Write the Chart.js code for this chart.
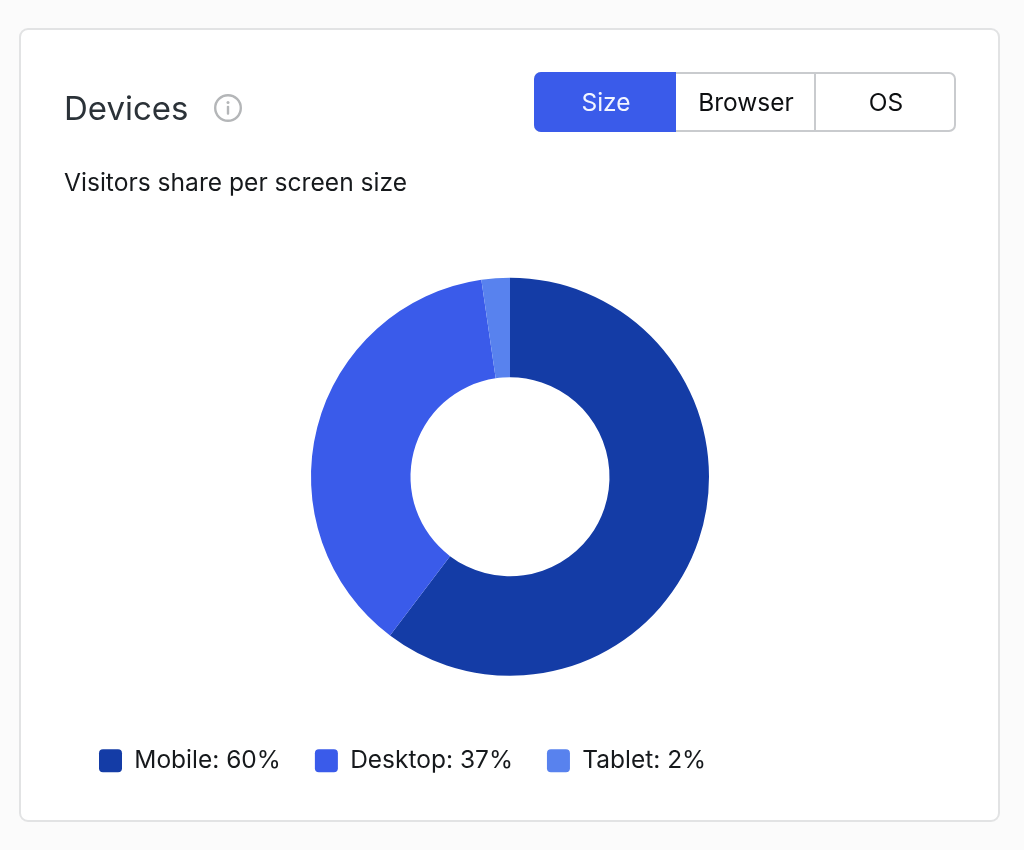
<!DOCTYPE html>
<html>
<head>
<meta charset="utf-8">
<script src="https://cdn.jsdelivr.net/npm/chart.js@4"></script>
<style>
html,body{margin:0;padding:0;width:1024px;height:850px;overflow:hidden;background:#fbfbfb;font-family:Inter,sans-serif}
.card{position:absolute;left:19px;top:28px;width:977px;height:790px;background:#fff;border:2px solid #e2e3e4;border-radius:9px;box-sizing:content-box}
#c{position:absolute;left:0;top:0}
.title{position:absolute;left:64px;top:88px;font-size:33px;line-height:40px;color:#2b3238}
.info{position:absolute;left:213px;top:93px}
.sub{position:absolute;left:64px;top:167px;font-size:24.6px;line-height:30px;color:#16191c}
.seg{position:absolute;left:534px;top:72px;width:422px;height:60px;box-sizing:border-box;border:2px solid #c9cbce;border-radius:7px;background:#fff;font-size:24.5px;color:#0d0f11}
.seg div{position:absolute;display:flex;align-items:center;justify-content:center;box-sizing:border-box}
.seg .on{background:#3a5bea;color:#f2f5ff;left:-2px;top:-2px;height:60px;width:142px;border-radius:7px 0 0 7px;padding-left:2px}
.seg .b{left:140px;top:0;height:56px;width:140px;border-right:2px solid #c9cbce;padding-left:2px}
.seg .o{left:280px;top:0;height:56px;width:140px}
</style>
</head>
<body>
<div class="card"></div>
<canvas id="c" width="1024" height="850"></canvas>
<div class="title">Devices</div>
<svg class="info" width="30" height="30" viewBox="0 0 30 30"><circle cx="15" cy="15" r="12.8" fill="none" stroke="#b4b6b8" stroke-width="2.4"/><circle cx="15" cy="9.6" r="1.5" fill="#b4b6b8"/><rect x="13.8" y="12.8" width="2.4" height="9" rx="1" fill="#b4b6b8"/></svg>
<div class="sub">Visitors share per screen size</div>
<div class="seg"><div class="on">Size</div><div class="b">Browser</div><div class="o">OS</div></div>
<script>
const categories = ["Mobile", "Desktop", "Tablet"];
const shareValues = [60.3, 37.4, 2.3];
const legendPercents = [60, 37, 2];
const sliceColors = ["#143ca6", "#3a5bea", "#5882ee"];

new Chart(document.getElementById("c"), {
  type: "doughnut",
  data: {
    labels: categories,
    datasets: [{ data: shareValues, backgroundColor: sliceColors, borderWidth: 0, radius: 199, cutout: "50%" }]
  },
  options: {
    responsive: false,
    animation: false,
    layout: { padding: { left: 65, right: 69, top: 239, bottom: 67 } },
    plugins: {
      tooltip: { enabled: false },
      legend: {
        position: "bottom",
        align: "start",
        labels: {
          boxWidth: 23,
          boxHeight: 23,
          padding: 34,
          color: "#16191c",
          font: { family: "Inter", size: 24.5 },
          useBorderRadius: true,
          borderRadius: 4,
          generateLabels: () => categories.map((c, i) => ({
            text: c + ": " + legendPercents[i] + "%",
            fillStyle: sliceColors[i],
            strokeStyle: sliceColors[i],
            lineWidth: 0,
            borderRadius: 4,
            fontColor: "#16191c",
            index: i
          }))
        }
      }
    }
  }
});
</script>
</body>
</html>
